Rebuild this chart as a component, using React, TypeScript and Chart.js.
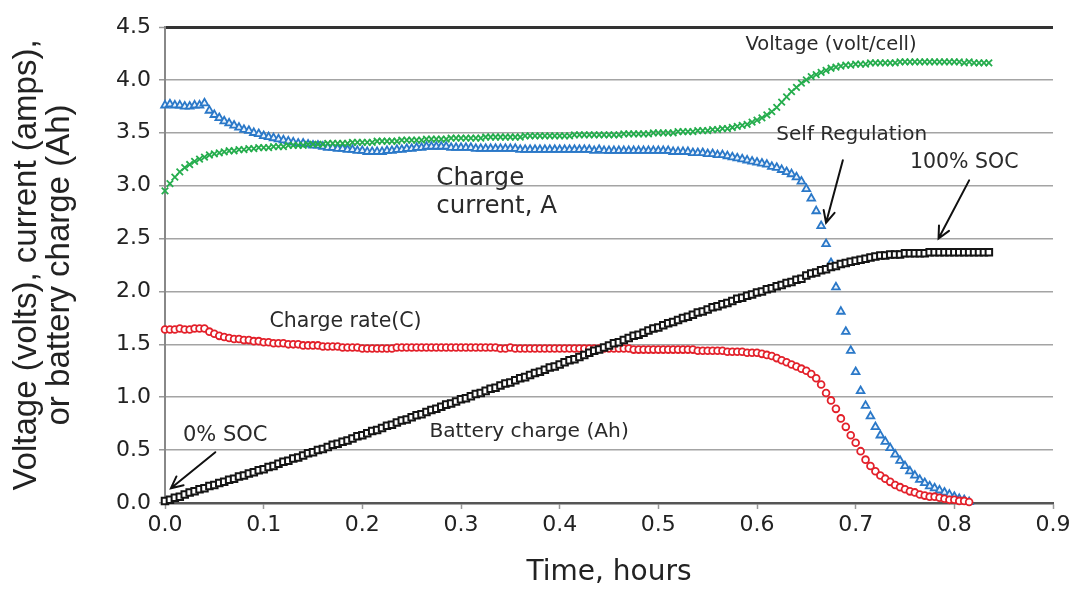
import React, { useEffect, useRef } from 'react';
import { Chart, registerables } from 'chart.js';

Chart.register(...registerables);

// Sampling interval of the logged data (hours)
const SAMPLE_STEP_HOURS = 0.005;

// Voltage (volt/cell)
const VOLTAGE = [
  2.95, 3.02, 3.08, 3.13, 3.17, 3.20, 3.23, 3.25, 3.27, 3.29,
  3.30, 3.31, 3.32, 3.33, 3.33, 3.34, 3.34, 3.35, 3.35, 3.36,
  3.36, 3.36, 3.37, 3.37, 3.37, 3.38, 3.38, 3.38, 3.38, 3.39,
  3.39, 3.39, 3.39, 3.40, 3.40, 3.40, 3.40, 3.40, 3.41, 3.41,
  3.41, 3.41, 3.41, 3.42, 3.42, 3.42, 3.42, 3.42, 3.43, 3.43,
  3.43, 3.43, 3.43, 3.44, 3.44, 3.44, 3.44, 3.44, 3.45, 3.45,
  3.45, 3.45, 3.45, 3.45, 3.45, 3.46, 3.46, 3.46, 3.46, 3.46,
  3.46, 3.46, 3.46, 3.47, 3.47, 3.47, 3.47, 3.47, 3.47, 3.47,
  3.47, 3.47, 3.47, 3.48, 3.48, 3.48, 3.48, 3.48, 3.48, 3.48,
  3.48, 3.48, 3.48, 3.49, 3.49, 3.49, 3.49, 3.49, 3.49, 3.50,
  3.50, 3.50, 3.50, 3.50, 3.51, 3.51, 3.51, 3.51, 3.52, 3.52,
  3.52, 3.53, 3.53, 3.54, 3.54, 3.55, 3.56, 3.57, 3.58, 3.60,
  3.62, 3.64, 3.67, 3.70, 3.74, 3.79, 3.84, 3.89, 3.93, 3.97,
  4.00, 4.03, 4.05, 4.07, 4.09, 4.11, 4.12, 4.13, 4.14, 4.14,
  4.15, 4.15, 4.15, 4.16, 4.16, 4.16, 4.16, 4.16, 4.16, 4.17,
  4.17, 4.17, 4.17, 4.17, 4.17, 4.17, 4.17, 4.17, 4.17, 4.17,
  4.17, 4.17, 4.16, 4.17, 4.16, 4.16, 4.16, 4.16,
];

// Charge current (A)
const CURRENT = [
  3.76, 3.77, 3.76, 3.76, 3.75, 3.75, 3.76, 3.76, 3.78, 3.71,
  3.67, 3.64, 3.61, 3.59, 3.57, 3.55, 3.53, 3.52, 3.50, 3.49,
  3.47, 3.46, 3.45, 3.44, 3.43, 3.42, 3.41, 3.40, 3.40, 3.39,
  3.38, 3.38, 3.37, 3.36, 3.36, 3.35, 3.35, 3.34, 3.34, 3.33,
  3.33, 3.32, 3.32, 3.32, 3.32, 3.33, 3.33, 3.34, 3.34, 3.35,
  3.35, 3.36, 3.36, 3.37, 3.37, 3.37, 3.37, 3.37, 3.36, 3.36,
  3.36, 3.36, 3.36, 3.35, 3.35, 3.35, 3.35, 3.35, 3.35, 3.35,
  3.35, 3.35, 3.34, 3.34, 3.34, 3.34, 3.34, 3.34, 3.34, 3.34,
  3.34, 3.34, 3.34, 3.34, 3.34, 3.34, 3.34, 3.33, 3.34, 3.33,
  3.33, 3.33, 3.33, 3.33, 3.33, 3.33, 3.33, 3.33, 3.33, 3.33,
  3.33, 3.33, 3.33, 3.32, 3.32, 3.32, 3.32, 3.31, 3.31, 3.31,
  3.30, 3.30, 3.29, 3.29, 3.28, 3.27, 3.26, 3.25, 3.24, 3.23,
  3.22, 3.21, 3.20, 3.18, 3.17, 3.15, 3.13, 3.11, 3.08, 3.04,
  2.97, 2.88, 2.76, 2.62, 2.45, 2.27, 2.04, 1.81, 1.62, 1.44,
  1.24, 1.06, 0.92, 0.82, 0.72, 0.64, 0.58, 0.52, 0.46, 0.40,
  0.35, 0.30, 0.26, 0.22, 0.19, 0.16, 0.14, 0.12, 0.10, 0.08,
  0.06, 0.04, 0.03, 0.01,
];

// Charge rate (C)
const CHARGE_RATE = [
  1.64, 1.64, 1.64, 1.65, 1.64, 1.64, 1.65, 1.65, 1.65, 1.62,
  1.60, 1.58, 1.57, 1.56, 1.55, 1.55, 1.54, 1.54, 1.53, 1.53,
  1.52, 1.52, 1.51, 1.51, 1.51, 1.50, 1.50, 1.50, 1.49, 1.49,
  1.49, 1.49, 1.48, 1.48, 1.48, 1.48, 1.47, 1.47, 1.47, 1.47,
  1.46, 1.46, 1.46, 1.46, 1.46, 1.46, 1.46, 1.47, 1.47, 1.47,
  1.47, 1.47, 1.47, 1.47, 1.47, 1.47, 1.47, 1.47, 1.47, 1.47,
  1.47, 1.47, 1.47, 1.47, 1.47, 1.47, 1.47, 1.47, 1.46, 1.46,
  1.47, 1.46, 1.46, 1.46, 1.46, 1.46, 1.46, 1.46, 1.46, 1.46,
  1.46, 1.46, 1.46, 1.46, 1.46, 1.46, 1.46, 1.46, 1.46, 1.46,
  1.46, 1.46, 1.46, 1.46, 1.46, 1.45, 1.45, 1.45, 1.45, 1.45,
  1.45, 1.45, 1.45, 1.45, 1.45, 1.45, 1.45, 1.45, 1.44, 1.44,
  1.44, 1.44, 1.44, 1.44, 1.43, 1.43, 1.43, 1.43, 1.42, 1.42,
  1.42, 1.41, 1.40, 1.39, 1.37, 1.35, 1.33, 1.31, 1.29, 1.27,
  1.25, 1.22, 1.18, 1.12, 1.04, 0.97, 0.89, 0.80, 0.72, 0.64,
  0.57, 0.49, 0.41, 0.35, 0.30, 0.26, 0.23, 0.20, 0.17, 0.15,
  0.13, 0.11, 0.10, 0.08, 0.07, 0.06, 0.06, 0.05, 0.04, 0.03,
  0.03, 0.02, 0.02, 0.01,
];

// Battery charge (Ah)
const BATTERY_CHARGE = [
  0.02, 0.03, 0.05, 0.06, 0.08, 0.10, 0.11, 0.13, 0.14, 0.16,
  0.17, 0.19, 0.20, 0.22, 0.23, 0.25, 0.26, 0.28, 0.29, 0.31,
  0.32, 0.34, 0.35, 0.37, 0.39, 0.40, 0.42, 0.43, 0.45, 0.47,
  0.48, 0.50, 0.51, 0.53, 0.55, 0.56, 0.58, 0.59, 0.61, 0.63,
  0.64, 0.66, 0.68, 0.69, 0.71, 0.73, 0.74, 0.76, 0.78, 0.79,
  0.81, 0.83, 0.84, 0.86, 0.88, 0.89, 0.91, 0.93, 0.94, 0.96,
  0.98, 0.99, 1.01, 1.03, 1.04, 1.06, 1.08, 1.09, 1.11, 1.13,
  1.14, 1.16, 1.18, 1.19, 1.21, 1.23, 1.24, 1.26, 1.28, 1.29,
  1.31, 1.33, 1.35, 1.36, 1.38, 1.40, 1.42, 1.44, 1.45, 1.47,
  1.49, 1.51, 1.52, 1.54, 1.56, 1.58, 1.59, 1.61, 1.63, 1.65,
  1.66, 1.68, 1.70, 1.71, 1.73, 1.75, 1.76, 1.78, 1.80, 1.81,
  1.83, 1.85, 1.86, 1.88, 1.89, 1.91, 1.93, 1.94, 1.96, 1.97,
  1.99, 2.00, 2.02, 2.03, 2.05, 2.06, 2.08, 2.09, 2.11, 2.12,
  2.15, 2.17, 2.18, 2.20, 2.21, 2.23, 2.24, 2.26, 2.27, 2.28,
  2.29, 2.30, 2.31, 2.32, 2.33, 2.34, 2.34, 2.35, 2.35, 2.35,
  2.36, 2.36, 2.36, 2.36, 2.36, 2.37, 2.37, 2.37, 2.37, 2.37,
  2.37, 2.37, 2.37, 2.37, 2.37, 2.37, 2.37, 2.37,
];

const X_TICKS = [0, 0.1, 0.2, 0.3, 0.4, 0.5, 0.6, 0.7, 0.8, 0.9];
const Y_TICKS = [0, 0.5, 1.0, 1.5, 2.0, 2.5, 3.0, 3.5, 4.0, 4.5];

const X_TITLE = 'Time, hours';
const Y_TITLE = ['Voltage (volts), current (amps),', 'or battery charge (Ah)'];

// Annotation texts (positioned in data coordinates)
const TEXT_NOTES = [
  { text: 'Voltage (volt/cell)', x: 0.675, y: 4.33, size: 19.5, align: 'center' },
  { text: 'Self Regulation', x: 0.696, y: 3.48, size: 20, align: 'center' },
  { text: '100% SOC', x: 0.81, y: 3.22, size: 20.5, align: 'center' },
  { text: 'Charge', x: 0.275, y: 3.07, size: 24.5, align: 'left' },
  { text: 'current, A', x: 0.275, y: 2.80, size: 24.5, align: 'left' },
  { text: 'Charge rate(C)', x: 0.183, y: 1.71, size: 20.5, align: 'center' },
  { text: 'Battery charge (Ah)', x: 0.369, y: 0.67, size: 20.2, align: 'center' },
  { text: '0% SOC', x: 0.061, y: 0.64, size: 21, align: 'center' },
];

// Arrows: from -> to, in data coordinates
const ARROWS = [
  { x1: 0.687, y1: 3.24, x2: 0.670, y2: 2.65 },
  { x1: 0.815, y1: 3.05, x2: 0.784, y2: 2.50 },
  { x1: 0.051, y1: 0.48, x2: 0.006, y2: 0.14 },
];

function toPoints(values: number[]) {
  return values.map((v, i) => ({ x: Math.round(i * SAMPLE_STEP_HOURS * 1000) / 1000, y: v }));
}

const annotationPlugin = {
  id: 'notes',
  afterDatasetsDraw(chart: any) {
    const { ctx } = chart;
    const xs = chart.scales.x;
    const ys = chart.scales.y;
    ctx.save();
    ctx.fillStyle = '#2a2a2a';
    ctx.textBaseline = 'middle';
    for (const n of TEXT_NOTES) {
      ctx.font = `${n.size}px "DejaVu Sans"`;
      ctx.textAlign = n.align;
      ctx.fillText(n.text, xs.getPixelForValue(n.x), ys.getPixelForValue(n.y));
    }
    ctx.strokeStyle = '#111';
    ctx.lineWidth = 2;
    ctx.lineCap = 'round';
    for (const a of ARROWS) {
      const x1 = xs.getPixelForValue(a.x1);
      const y1 = ys.getPixelForValue(a.y1);
      const x2 = xs.getPixelForValue(a.x2);
      const y2 = ys.getPixelForValue(a.y2);
      const ang = Math.atan2(y2 - y1, x2 - x1);
      const head = 13;
      const spread = 0.45;
      ctx.beginPath();
      ctx.moveTo(x1, y1);
      ctx.lineTo(x2, y2);
      ctx.moveTo(x2 - head * Math.cos(ang - spread), y2 - head * Math.sin(ang - spread));
      ctx.lineTo(x2, y2);
      ctx.lineTo(x2 - head * Math.cos(ang + spread), y2 - head * Math.sin(ang + spread));
      ctx.stroke();
    }
    ctx.restore();
  },
};

export default function App() {
  const ref = useRef<HTMLCanvasElement | null>(null);

  useEffect(() => {
    document.body.style.margin = '0';
    document.body.style.background = '#ffffff';
    if (!ref.current) return;
    const chart = new Chart(ref.current, {
      type: 'scatter',
      data: {
        datasets: [
          {
            label: 'Battery charge (Ah)',
            data: toPoints(BATTERY_CHARGE),
            pointStyle: 'rect',
            pointRadius: 4.6,
            borderColor: '#151515',
            backgroundColor: '#ffffff',
            borderWidth: 2,
            showLine: false,
            clip: false,
          },
          {
            label: 'Charge rate (C)',
            data: toPoints(CHARGE_RATE),
            pointStyle: 'circle',
            pointRadius: 3.4,
            borderColor: '#e3202a',
            backgroundColor: '#ffffff',
            borderWidth: 1.8,
            showLine: false,
            clip: false,
          },
          {
            label: 'Voltage (volt/cell)',
            data: toPoints(VOLTAGE),
            pointStyle: 'crossRot',
            pointRadius: 4.6,
            borderColor: '#25ad4d',
            backgroundColor: '#25ad4d',
            borderWidth: 1.8,
            showLine: false,
            clip: false,
          },
          {
            label: 'Charge current, A',
            data: toPoints(CURRENT),
            pointStyle: 'triangle',
            pointRadius: 4.4,
            borderColor: '#2a78c8',
            backgroundColor: '#eaf2fb',
            borderWidth: 1.8,
            showLine: false,
            clip: false,
          },
        ],
      },
      options: {
        animation: false,
        responsive: false,
        events: [],
        layout: { padding: { top: 27, right: 22, left: 0, bottom: 0 } },
        plugins: { legend: { display: false }, tooltip: { enabled: false } },
        scales: {
          x: {
            type: 'linear',
            min: 0,
            max: 0.9,
            afterBuildTicks: (s: any) => {
              s.ticks = X_TICKS.map((v) => ({ value: v }));
            },
            afterFit: (s: any) => {
              s.height = 86;
            },
            ticks: {
              callback: (v: any) => Number(v).toFixed(1),
              font: { family: '"DejaVu Sans"', size: 22 },
              color: '#222',
              padding: 3,
              maxRotation: 0,
              autoSkip: false,
            },
            grid: {
              drawOnChartArea: false,
              drawTicks: true,
              tickLength: 6,
              tickColor: '#999',
              tickWidth: 1.5,
            },
            border: { display: true, color: '#555', width: 2.5 },
            title: {
              display: true,
              text: X_TITLE,
              font: { family: '"DejaVu Sans"', size: 28 },
              color: '#222',
              padding: { top: 0, bottom: -1 },
            },
          },
          y: {
            type: 'linear',
            min: 0,
            max: 4.5,
            afterBuildTicks: (s: any) => {
              s.ticks = Y_TICKS.map((v) => ({ value: v }));
            },
            afterFit: (s: any) => {
              s.width = 165;
            },
            ticks: {
              callback: (v: any) => Number(v).toFixed(1),
              font: { family: '"DejaVu Sans"', size: 22 },
              color: '#222',
              padding: 8,
              autoSkip: false,
            },
            grid: {
              color: (c: any) => (c.tick && c.tick.value === 4.5 ? '#333' : c.tick && c.tick.value === 0 ? '#555' : '#a4a4a4'),
              lineWidth: (c: any) => (c.tick && c.tick.value === 4.5 ? 3 : 1.5),
              drawTicks: true,
              tickLength: 6,
              tickColor: '#999',
              tickWidth: 1.5,
            },
            border: { display: true, color: '#888', width: 2 },
            title: {
              display: true,
              text: Y_TITLE,
              font: { family: '"Liberation Sans"', size: 33, lineHeight: 0.98 },
              color: '#222',
              padding: { top: 11, bottom: 0 },
            },
          },
        },
      },
      plugins: [annotationPlugin],
    } as any);
    return () => chart.destroy();
  }, []);

  return <canvas ref={ref} width={1075} height={589} style={{ display: 'block' }} />;
}
